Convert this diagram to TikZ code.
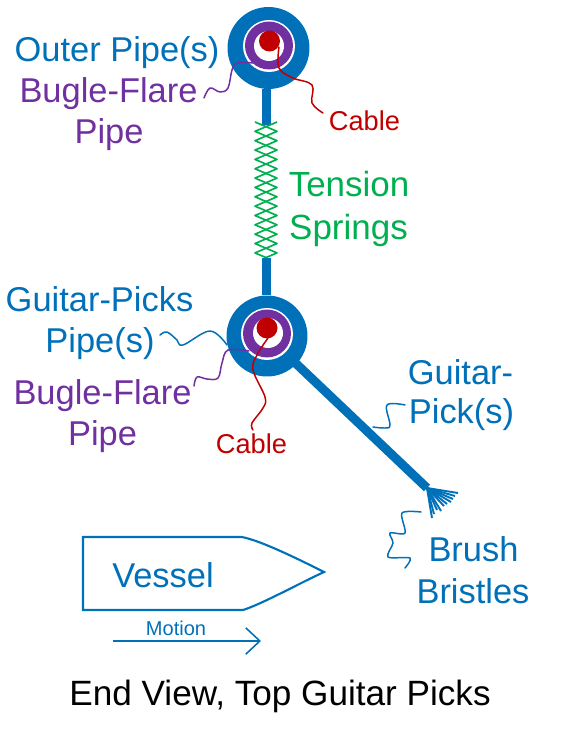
\documentclass[tikz,border=0pt]{standalone}
\usepackage{fontspec}
\setmainfont{Liberation Sans}
\usetikzlibrary{arrows.meta}
\definecolor{pipeblue}{RGB}{0, 112, 185}
\definecolor{flarepurple}{RGB}{112, 48, 160}
\definecolor{cablered}{RGB}{192, 0, 0}
\definecolor{springgreen}{RGB}{0, 176, 80}

\begin{document}
\begin{tikzpicture}[
                x=0.02cm, y=-0.02cm,
                disc/.style={circle, draw=none, inner sep=0pt},
                leader/.style={line width=0.85pt, line cap=round, line join=round},
                txt/.style={font=\fontsize{19.6}{22}\selectfont, inner sep=0pt},
                stem/.style={draw=pipeblue, line width=5.1pt},
                bristle/.style={draw=pipeblue, line width=1.1pt}
            ]
                \useasboundingbox (0, 0) rectangle (575, 729);

                % Top pipes
                \node[disc, fill=pipeblue, minimum size=1.64cm] (outer1) at (268.5, 48) {};
                \node[disc, fill=white, minimum size=1.04cm] (gap1) at (269, 46) {};
                \node[disc, fill=flarepurple, minimum size=0.96cm] (flare1) at (269, 45.5) {};
                \node[disc, fill=white, minimum size=0.6cm] (hole1) at (269, 46) {};
                \node[disc, fill=cablered, minimum size=0.42cm] (cable1) at (269.5, 41) {};

                % Lower pipes
                \node[disc, fill=pipeblue, minimum size=1.62cm] (outer2) at (267, 336) {};
                \node[disc, fill=white, minimum size=1.04cm] (gap2) at (267, 334) {};
                \node[disc, fill=flarepurple, minimum size=0.96cm] (flare2) at (267, 333.5) {};
                \node[disc, fill=white, minimum size=0.6cm] (hole2) at (268, 333) {};
                \node[disc, fill=cablered, minimum size=0.42cm] (cable2) at (267, 328) {};

                % Stems and pick
                \coordinate (spring1) at (266.5, 125);
                \coordinate (spring2) at (266.5, 258);
                \coordinate (tip) at (427, 488);
                \draw[stem] (spring1 |- outer1.south) -- (spring1);
                \draw[stem] (spring2) -- (spring2 |- outer2.north);
                \draw[stem, shorten <=-1pt] (outer2) -- (tip);

                % Tension springs
                \foreach \phase in {0, 180}
                    \draw[springgreen, line width=0.95pt, line join=round, samples=30, domain=0:2610]
                        plot ({266 + 11*cos(\x + \phase)}, {122 + \x/360*18.7});

                % Bristles
                \foreach \dx/\dy in {31/5, 28/8, 26/11, 24/14, 20/16, 17/18, 14/23, 10/22, 7/26, 5/30}
                    \draw[bristle] (tip) -- ++(\dx, \dy);

                % Vessel
                \draw[pipeblue, line width=1.2pt, line join=miter]
                    (83, 537) -- (242, 537) .. controls (262, 541) and (300, 560) .. (324, 572)
                    .. controls (300, 583) and (262, 604) .. (243, 610) -- (83, 610) -- cycle;
                \node[txt, text=pipeblue] (vessel) at (163, 575) {Vessel};

                % Motion
                \node[font=\fontsize{11.4}{13}\selectfont, text=pipeblue, inner sep=0pt] (motion) at (176, 628) {Motion};
                \coordinate (motion0) at (113, 641);
                \coordinate (motion1) at (261, 641);
                \draw[pipeblue, line width=0.9pt, -{Straight Barb[length=8pt, width=15pt, line width=0.9pt]}] (motion0) -- (motion1);

                % Labels
                \node[txt, text=pipeblue] (outerlabel) at (117, 53) {Outer Pipe(s)};
                \node[txt, text=flarepurple] (flarelabel1) at (108.5, 94) {Bugle-Flare};
                \node[txt, text=flarepurple] (pipelabel1) at (109, 135) {Pipe};
                \node[txt, text=cablered, font=\fontsize{15.5}{18}\selectfont] (cablelabel1) at (364.5, 121) {Cable};
                \node[txt, text=springgreen, font=\fontsize{19.9}{22}\selectfont] (tension) at (349, 184) {Tension};
                \node[txt, text=springgreen, font=\fontsize{19.9}{22}\selectfont] (springs) at (348.5, 230) {Springs};
                \node[txt, text=pipeblue] (pickslabel) at (99.5, 299) {Guitar-Picks};
                \node[txt, text=pipeblue] (pipeslabel) at (100, 344) {Pipe(s)};
                \node[txt, text=flarepurple] (flarelabel2) at (102.5, 396) {Bugle-Flare};
                \node[txt, text=flarepurple] (pipelabel2) at (102.5, 437) {Pipe};
                \node[txt, text=cablered, font=\fontsize{15.5}{18}\selectfont] (cablelabel2) at (251.5, 444) {Cable};
                \node[txt, text=pipeblue] (picklabel1) at (460.5, 372) {Guitar-};
                \node[txt, text=pipeblue] (picklabel2) at (461.5, 415) {Pick(s)};
                \node[txt, text=pipeblue] (brush) at (473.5, 549) {Brush};
                \node[txt, text=pipeblue] (bristles) at (473, 591) {Bristles};
                \node[txt, text=black, font=\fontsize{20}{22}\selectfont] (title) at (280, 696) {End View, Top Guitar Picks};

                % Leaders
                \coordinate (flarestart1) at (254, 63);
                \coordinate (flareend1) at (204, 98);
                \draw[leader, flarepurple] plot[smooth, tension=0.6] coordinates {(flarestart1) (237, 63) (232, 70) (228, 88) (220, 92) (210, 88) (flareend1)};
                \coordinate (cablestart1) at (279, 47);
                \coordinate (cableend1) at (323, 113);
                \draw[leader, cablered] plot[smooth, tension=0.6] coordinates {(cablestart1) (279, 68) (293, 78) (312, 85) (312, 103) (cableend1)};
                \coordinate (pipesstart) at (160, 335);
                \coordinate (pipesend) at (227, 345);
                \draw[leader, pipeblue] plot[smooth, tension=0.6] coordinates {(pipesstart) (167, 332) (177, 340) (183, 345) (210, 331) (pipesend)};
                \coordinate (flarestart2) at (249, 351);
                \coordinate (flareend2) at (194, 386);
                \draw[leader, flarepurple] plot[smooth, tension=0.6] coordinates {(flarestart2) (228, 350) (222, 363) (218, 378) (207, 379) (197, 377) (flareend2)};
                \coordinate (cablestart2) at (268, 338);
                \coordinate (cableend2) at (253, 430);
                \draw[leader, cablered] plot[smooth, tension=0.6] coordinates {(cablestart2) (257, 355) (253, 370) (265, 397) (263, 408) (252, 423) (cableend2)};
                \coordinate (pickstart) at (373, 427);
                \coordinate (pickend) at (405, 405);
                \draw[leader, pipeblue] plot[smooth, tension=0.6] coordinates {(pickstart) (385, 428) (390, 425) (387, 405) (pickend)};
                \coordinate (brushstart) at (421, 512);
                \coordinate (brushend) at (405, 568);
                \draw[leader, pipeblue] plot[smooth, tension=0.5] coordinates {(brushstart) (402, 513) (405, 533) (390, 533) (393, 543) (388, 557) (410, 558) (brushend)};
            \end{tikzpicture}
\end{document}
